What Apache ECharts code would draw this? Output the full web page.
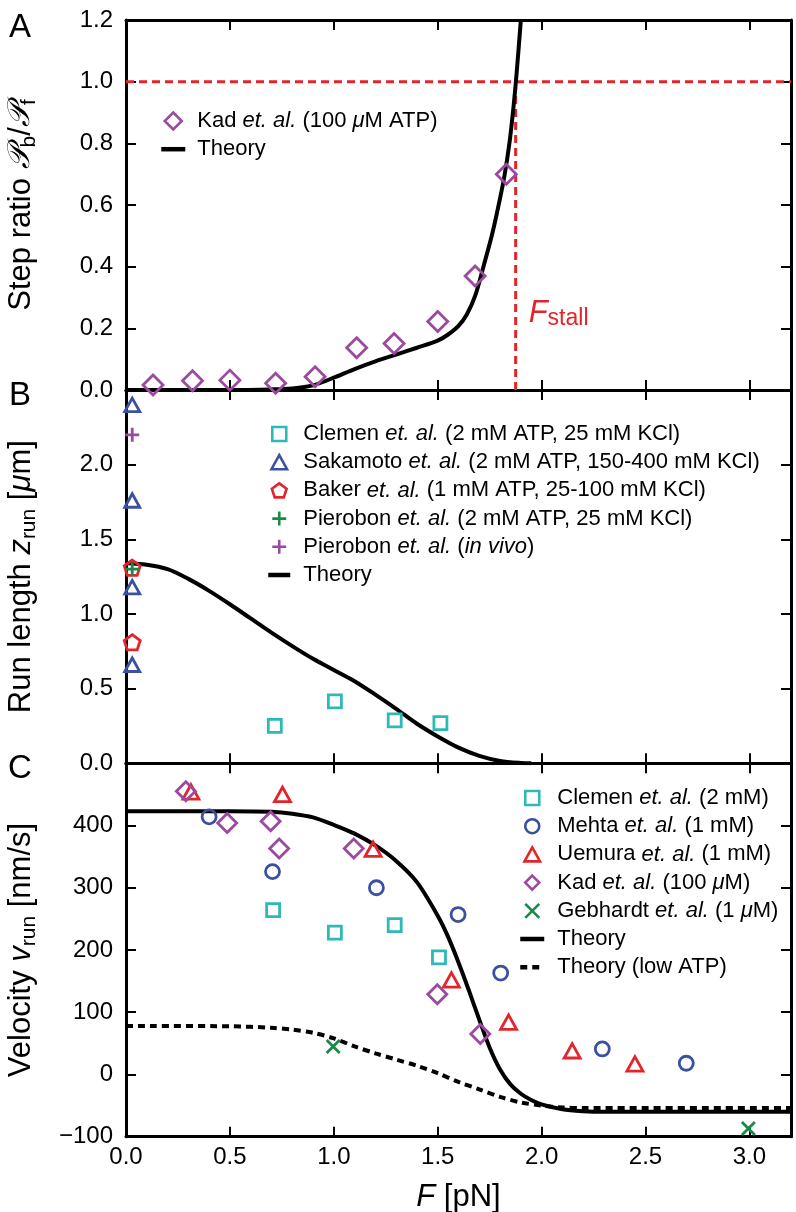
<!DOCTYPE html>
<html><head><meta charset="utf-8">
<script src="https://cdn.jsdelivr.net/npm/echarts@6/dist/echarts.min.js"></script>
<style>html,body{margin:0;padding:0;background:#fff}#c{width:796px;height:1212px}</style>
</head><body><div id="c"></div>
<script>
// ---------- DATA ----------
// Panel A: step ratio
const aKadF = [0.13, 0.32, 0.50, 0.72, 0.91, 1.11, 1.29, 1.50, 1.68, 1.83];
const aKadRatio = [0.016, 0.030, 0.032, 0.022, 0.043, 0.137, 0.151, 0.222, 0.370, 0.700];
const aTheoryF = [0, 0.5, 0.7, 0.8, 0.9, 1.0, 1.1, 1.2, 1.3, 1.4, 1.5, 1.55, 1.6, 1.64, 1.68, 1.72, 1.76, 1.79, 1.82, 1.845, 1.865, 1.88, 1.9];
const aTheoryRatio = [0, 0, 0.002, 0.005, 0.015, 0.04, 0.068, 0.093, 0.115, 0.137, 0.16, 0.18, 0.208, 0.245, 0.305, 0.40, 0.50, 0.59, 0.69, 0.80, 0.92, 1.03, 1.2];
const fStall = 1.875;
const stallRatio = 1.0;

// Panel B: run length
const bClemenF = [0.716, 1.005, 1.293, 1.513];
const bClemenZ = [0.251, 0.415, 0.287, 0.269];
const bSakamotoF = [0.03, 0.03, 0.03, 0.03];
const bSakamotoZ = [2.40, 1.76, 1.18, 0.66];
const bBakerF = [0.03, 0.03];
const bBakerZ = [1.31, 0.81];
const bPierobonF = [0.03];
const bPierobonZ = [1.30];
const bPierobonVivoF = [0.03];
const bPierobonVivoZ = [2.20];
const bTheoryF = [0, 0.1, 0.2, 0.3, 0.4, 0.5, 0.6, 0.7, 0.8, 0.9, 1.0, 1.1, 1.2, 1.3, 1.4, 1.5, 1.6, 1.7, 1.8, 1.9, 1.95];
const bTheoryZ = [1.34, 1.33, 1.30, 1.235, 1.155, 1.065, 0.97, 0.875, 0.785, 0.70, 0.625, 0.55, 0.46, 0.365, 0.265, 0.18, 0.105, 0.05, 0.016, 0.002, 0];

// Panel C: velocity
const cClemenF = [0.708, 1.005, 1.293, 1.506];
const cClemenV = [264, 228, 240, 188];
const cMehtaF = [0.40, 0.705, 1.205, 1.598, 1.803, 2.292, 2.696];
const cMehtaV = [414, 326, 300, 257, 163, 41, 18];
const cUemuraF = [0.3125, 0.753, 1.189, 1.566, 1.841, 2.147, 2.449];
const cUemuraV = [454, 450, 362, 152, 84, 38, 17];
const cKadF = [0.288, 0.487, 0.696, 0.737, 1.096, 1.498, 1.705];
const cKadV = [455, 404, 407, 363, 363, 129, 65];
const cGebhardtF = [0.997, 2.995];
const cGebhardtV = [45, -87];
const cTheoryF = [0, 0.5, 0.7, 0.8, 0.9, 1.0, 1.1, 1.2, 1.3, 1.4, 1.5, 1.55, 1.6, 1.65, 1.7, 1.75, 1.8, 1.85, 1.9, 1.95, 2.0, 2.1, 2.2, 2.3, 3.2];
const cTheoryV = [423, 423, 422, 419, 413, 401, 387, 368, 343, 309, 255, 221, 180, 135, 88, 43, 8, -16, -31, -41, -48, -56, -59, -60, -60];
const cLowF = [0, 0.5, 0.7, 0.8, 0.9, 1.0, 1.1, 1.2, 1.3, 1.4, 1.5, 1.6, 1.7, 1.8, 1.9, 2.0, 2.1, 2.2, 3.2];
const cLowV = [78, 77.5, 75, 72, 67, 58, 45, 34, 24, 14, 2, -12, -24, -36, -45, -50, -53, -54, -54];

// tick settings
const xMin = 0, xMax = 3.2, xStep = 0.5;
const aMin = 0, aMax = 1.2, aStep = 0.2;
const bMin = 0, bMax = 2.5, bStep = 0.5;
const cMin = -100, cMax = 500, cStep = 100;

// ---------- STYLE ----------
const FONT = 'Liberation Sans, Arial, Helvetica, sans-serif';
const PURPLE = '#9b4a9f', CYAN = '#2fb8b8', BLUE = '#3b50a0', RED = '#e2252b', GREEN = '#1a8a48';
const PLUS = 'path://M5,0L5,10M0,5L10,5';
const CROSS = 'path://M0,0L10,10M0,10L10,0';
const PENTA = 'path://M5,0L9.755,3.455L7.939,9.045L2.061,9.045L0.245,3.455Z';
const RECT = 'path://M0,0L10,0L10,10L0,10Z';
const DIAM = 'path://M5,0L10,5L5,10L0,5Z';
const TRI = 'path://M5,0L10,9L0,9Z';
const CIRC = 'path://M0,5A5,5,0,1,1,10,5A5,5,0,1,1,0,5Z';
const zip = (a, b) => a.map((v, i) => [v, b[i]]);

const grids = [
  {left: 126, right: 5, top: 20, height: 370, outerBoundsMode: 'none', containLabel: false},
  {left: 126, right: 5, top: 390, height: 373.3, outerBoundsMode: 'none', containLabel: false},
  {left: 126, right: 5, top: 763.3, height: 373.4, outerBoundsMode: 'none', containLabel: false}
];
const yRanges = [[aMin, aMax, aStep], [bMin, bMax, bStep], [cMin, cMax, cStep]];
const yFmt = [
  v => v.toFixed(1),
  v => (Math.abs(v - bMax) < 1e-9 ? '' : v.toFixed(1)),
  v => (v === cMax ? '' : (v < 0 ? '\u2212' + Math.abs(v) : String(v)))
];
const NAME_FS = 31;
const subRich = {
  i: {fontStyle: 'italic', fontSize: NAME_FS, fontFamily: FONT, lineHeight: 38},
  p: {fontSize: NAME_FS, fontFamily: 'DejaVu Serif, DejaVu Sans, serif', fontStyle: 'italic', lineHeight: 38},
  sub: {fontSize: 21, fontFamily: FONT, lineHeight: 20, verticalAlign: 'bottom'}
};
const yNames = [
  'Step ratio {p|\uD835\uDCAB}{sub|b}/{p|\uD835\uDCAB}{sub|f}',
  'Run length {i|z}{sub|run} [{i|\u03BC}m]',
  'Velocity {i|v}{sub|run} [nm/s]'
];

const tickCommon = {show: true, inside: true, length: 10, lineStyle: {color: '#000', width: 2}};
const lineCommon = {show: true, onZero: false, lineStyle: {color: '#000', width: 3}};

const xAxes = [], yAxes = [];
for (let g = 0; g < 3; g++) {
  ['bottom', 'top'].forEach(pos => {
    const isMain = (g === 2 && pos === 'bottom');
    xAxes.push({
      type: 'value', gridIndex: g, position: pos, min: xMin, max: xMax, interval: xStep,
      axisLine: lineCommon, axisTick: tickCommon, splitLine: {show: false},
      axisLabel: {show: isMain, fontSize: 24, color: '#000', fontFamily: FONT, margin: 9,
        formatter: v => (v > 3.05 ? '' : v.toFixed(1))},
      name: isMain ? '{i|F} [pN]' : '', nameLocation: 'middle', nameGap: 42,
      nameTextStyle: {fontSize: NAME_FS, color: '#000', fontFamily: FONT, lineHeight: 38,
        rich: {i: {fontStyle: 'italic', fontSize: NAME_FS, fontFamily: FONT, lineHeight: 38}}}
    });
  });
  ['left', 'right'].forEach(pos => {
    const isMain = pos === 'left';
    const r = yRanges[g];
    yAxes.push({
      type: 'value', gridIndex: g, position: pos, min: r[0], max: r[1], interval: r[2],
      axisLine: lineCommon, axisTick: tickCommon, splitLine: {show: false},
      axisLabel: {show: isMain, fontSize: 24, color: '#000', fontFamily: FONT, margin: 13, formatter: yFmt[g]},
      name: isMain ? yNames[g] : '', nameLocation: 'middle', nameGap: 86,
      nameTextStyle: {fontSize: NAME_FS, color: '#000', fontFamily: FONT, lineHeight: 38, rich: subRich}
    });
  });
}

function scatter(name, g, xs, ys, symbol, size, color) {
  return {
    name, type: 'scatter', xAxisIndex: 2 * g, yAxisIndex: 2 * g, data: zip(xs, ys),
    symbol, symbolSize: size, symbolKeepAspect: true,
    itemStyle: {color: 'rgba(0,0,0,0)', borderColor: color, borderWidth: 2.8, opacity: 1},
    emphasis: {disabled: true}, z: 5
  };
}
function line(name, g, xs, ys, color, width, type) {
  return {
    name, type: 'line', xAxisIndex: 2 * g, yAxisIndex: 2 * g, data: zip(xs, ys),
    symbol: 'none', showSymbol: false, smooth: 0.3,
    lineStyle: {color, width, type: type || 'solid'}, itemStyle: {color},
    emphasis: {disabled: true}, z: 3
  };
}

const LOW_DASH = [7, 5];
const series = [
  // Panel A
  Object.assign(line('aStallH', 0, [xMin, xMax], [stallRatio, stallRatio], RED, 3, [8, 5]), {smooth: false, z: 2}),
  Object.assign(line('aStallV', 0, [fStall, fStall], [0, stallRatio], RED, 3, [8, 5]), {smooth: false, z: 2}),
  line('aTheory', 0, aTheoryF, aTheoryRatio, '#000', 4),
  scatter('aKad', 0, aKadF, aKadRatio, DIAM, 20, PURPLE),
  {
    name: 'stallLabel', type: 'scatter', xAxisIndex: 0, yAxisIndex: 0, data: [[fStall, 0.25]],
    symbolSize: 0, silent: true, itemStyle: {opacity: 1},
    label: {show: true, position: 'right', distance: 13, color: RED, fontFamily: FONT, opacity: 1,
      formatter: '{f|F}{s|stall}',
      rich: {f: {fontStyle: 'italic', fontSize: 31, color: RED, fontFamily: FONT, lineHeight: 34},
             s: {fontSize: 23, color: RED, fontFamily: FONT, lineHeight: 18, verticalAlign: 'bottom'}}}
  },
  // Panel B
  line('bTheory', 1, bTheoryF, bTheoryZ, '#000', 4),
  scatter('bClemen', 1, bClemenF, bClemenZ, RECT, 13, CYAN),
  scatter('bSakamoto', 1, bSakamotoF, bSakamotoZ, TRI, 15, BLUE),
  scatter('bBaker', 1, bBakerF, bBakerZ, PENTA, 16, RED),
  scatter('bPierobon', 1, bPierobonF, bPierobonZ, PLUS, 14, GREEN),
  scatter('bPierobonVivo', 1, bPierobonVivoF, bPierobonVivoZ, PLUS, 14, PURPLE),
  // Panel C
  line('cTheory', 2, cTheoryF, cTheoryV, '#000', 4),
  line('cLow', 2, cLowF, cLowV, '#000', 4, LOW_DASH),
  scatter('cClemen', 2, cClemenF, cClemenV, RECT, 13, CYAN),
  scatter('cMehta', 2, cMehtaF, cMehtaV, CIRC, 14, BLUE),
  scatter('cUemura', 2, cUemuraF, cUemuraV, TRI, 16, RED),
  scatter('cKad', 2, cKadF, cKadV, DIAM, 19, PURPLE),
  scatter('cGebhardt', 2, cGebhardtF, cGebhardtV, CROSS, 13, GREEN)
];

const labels = {
  aKad: 'Kad {i|et. al.} (100 {i|\u03BC}M ATP)',
  aTheory: 'Theory',
  bClemen: 'Clemen {i|et. al.} (2 mM ATP, 25 mM KCl)',
  bSakamoto: 'Sakamoto {i|et. al.} (2 mM ATP, 150-400 mM KCl)',
  bBaker: 'Baker {i|et. al.} (1 mM ATP, 25-100 mM KCl)',
  bPierobon: 'Pierobon {i|et. al.} (2 mM ATP, 25 mM KCl)',
  bPierobonVivo: 'Pierobon {i|et. al.} ({i|in vivo})',
  bTheory: 'Theory',
  cClemen: 'Clemen {i|et. al.} (2 mM)',
  cMehta: 'Mehta {i|et. al.} (1 mM)',
  cUemura: 'Uemura {i|et. al.} (1 mM)',
  cKad: 'Kad {i|et. al.} (100 {i|\u03BC}M)',
  cGebhardt: 'Gebhardt {i|et. al.} (1 {i|\u03BC}M)',
  cTheory: 'Theory',
  cLow: 'Theory (low ATP)'
};
const lineNames = {aTheory: 'solid', bTheory: 'solid', cTheory: 'solid', cLow: LOW_DASH};
function legend(left, top, names, itemWidth, itemHeight, gap) {
  return {
    left, top, orient: 'vertical', padding: 0, itemGap: 4.2, itemWidth, itemHeight,
    selectedMode: false,
    data: names.map(n => (n in lineNames)
      ? {name: n,
         itemStyle: {color: 'rgba(0,0,0,0)', borderColor: 'rgba(0,0,0,0)', borderWidth: 0},
         lineStyle: {color: '#000', width: 4.5, type: lineNames[n]}}
      : {name: n}),
    formatter: n => '{g| }' + labels[n],
    itemStyle: {borderWidth: 2.6},
    textStyle: {fontSize: 22, color: '#000', fontFamily: FONT, lineHeight: 24,
      rich: {i: {fontStyle: 'italic', fontSize: 22, fontFamily: FONT, lineHeight: 24, color: '#000'},
             g: {width: gap, fontSize: 22, lineHeight: 24}}}
  };
}

const option = {
  animation: false,
  backgroundColor: '#fff',
  grid: grids,
  xAxis: xAxes,
  yAxis: yAxes,
  legend: [
    legend(159, 109, ['aKad', 'aTheory'], 24, 17, 7),
    legend(266, 422, ['bClemen', 'bSakamoto', 'bBaker', 'bPierobon', 'bPierobonVivo', 'bTheory'], 22, 14, 8),
    legend(518, 786, ['cClemen', 'cMehta', 'cUemura', 'cKad', 'cGebhardt', 'cTheory', 'cLow'], 24, 14, 8)
  ],
  graphic: [
    {type: 'text', left: 9, top: 11, style: {text: 'A', fontSize: 33, fontFamily: FONT, fill: '#000'}},
    {type: 'text', left: 9, top: 379, style: {text: 'B', fontSize: 33, fontFamily: FONT, fill: '#000'}},
    {type: 'text', left: 8, top: 752, style: {text: 'C', fontSize: 33, fontFamily: FONT, fill: '#000'}}
  ],
  series
};
const chart = echarts.init(document.getElementById('c'), null, {renderer: 'canvas'});
chart.setOption(option);
</script></body></html>
